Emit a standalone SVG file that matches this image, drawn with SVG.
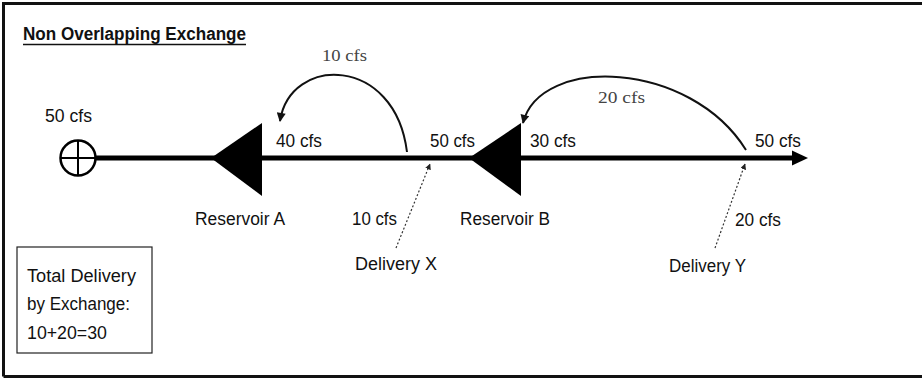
<svg xmlns="http://www.w3.org/2000/svg" width="922" height="379" viewBox="0 0 922 379">
  <style>
    .lbl { font-family: "Liberation Sans", Arial, sans-serif; font-size: 17.5px; fill: #111; }
    .title { font-family: "Liberation Sans", Arial, sans-serif; font-size: 17.5px; font-weight: bold; fill: #111; }
    .thin { font-family: "Liberation Serif", "DejaVu Serif", serif; font-size: 16px; fill: #444; }
    .arc { fill: none; stroke: #111; stroke-width: 2; }
    .dot { fill: none; stroke: #333; stroke-width: 1.2; stroke-dasharray: 2 2; }
    .main { stroke: #000; stroke-width: 5; fill: none; }
  </style>
  <defs>
    <marker id="ah" viewBox="0 0 10 10" refX="9" refY="5" markerWidth="10" markerHeight="9" markerUnits="userSpaceOnUse" orient="auto">
      <path d="M0,0 L10,5 L0,10 z" fill="#111"/>
    </marker>
    <marker id="ahs" viewBox="0 0 10 10" refX="9" refY="5" markerWidth="6" markerHeight="6" markerUnits="userSpaceOnUse" orient="auto">
      <path d="M0,0 L10,5 L0,10 z" fill="#222"/>
    </marker>
  </defs>
  <rect width="922" height="379" fill="#fff"/>
  <!-- frame -->
  <path d="M3.5,376.5 L3.5,3.5 L922,3.5 M3.5,376.5 L922,376.5" fill="none" stroke="#111" stroke-width="3"/>
  <text class="title" x="23" y="40" textLength="223" lengthAdjust="spacingAndGlyphs">Non Overlapping Exchange</text>
  <line x1="23" y1="44.5" x2="246" y2="44.5" stroke="#111" stroke-width="1.5"/>

  <g id="connectors">
    <line class="main" x1="96" y1="158" x2="796" y2="158"/>
    <polygon points="792,150.5 808,158 792,165.5" fill="#000"/>
    <path class="arc" d="M407,152 C395,55 290,55 280,121" marker-end="url(#ah)"/>
    <path class="arc" d="M746,150 C690,60 540,55 523,123" marker-end="url(#ah)"/>
    <path class="dot" d="M396,248 L430,164" marker-end="url(#ahs)"/>
    <path class="dot" d="M715,248 L745,164" marker-end="url(#ahs)"/>
  </g>

  <g id="source">
    <circle cx="78" cy="158" r="17.5" fill="#fff" stroke="#000" stroke-width="2.5"/>
    <line x1="60.5" y1="158" x2="95.5" y2="158" stroke="#000" stroke-width="2"/>
    <line x1="78" y1="140.5" x2="78" y2="175.5" stroke="#000" stroke-width="2"/>
    <text class="lbl" x="45" y="122" textLength="47" lengthAdjust="spacingAndGlyphs">50 cfs</text>
  </g>

  <g id="reservoir-a">
    <polygon points="211,158 262,123 262,196" fill="#000"/>
    <text class="lbl" x="195" y="225" textLength="90" lengthAdjust="spacingAndGlyphs">Reservoir A</text>
  </g>

  <g id="reservoir-b">
    <polygon points="469,158 521,123 521,196" fill="#000"/>
    <text class="lbl" x="460" y="225" textLength="90" lengthAdjust="spacingAndGlyphs">Reservoir B</text>
  </g>

  <g id="delivery-x">
    <text class="lbl" x="352" y="225" textLength="45" lengthAdjust="spacingAndGlyphs">10 cfs</text>
    <text class="lbl" x="355" y="270" textLength="82" lengthAdjust="spacingAndGlyphs">Delivery X</text>
  </g>

  <g id="delivery-y">
    <text class="lbl" x="735" y="226" textLength="46" lengthAdjust="spacingAndGlyphs">20 cfs</text>
    <text class="lbl" x="669" y="272" textLength="77" lengthAdjust="spacingAndGlyphs">Delivery Y</text>
  </g>

  <g id="flow-labels">
    <text class="lbl" x="276" y="147" textLength="46" lengthAdjust="spacingAndGlyphs">40 cfs</text>
    <text class="lbl" x="430" y="147" textLength="45" lengthAdjust="spacingAndGlyphs">50 cfs</text>
    <text class="lbl" x="530" y="147" textLength="46" lengthAdjust="spacingAndGlyphs">30 cfs</text>
    <text class="lbl" x="755" y="147" textLength="46" lengthAdjust="spacingAndGlyphs">50 cfs</text>
    <text class="thin" x="322" y="61" textLength="45" lengthAdjust="spacingAndGlyphs">10 cfs</text>
    <text class="thin" x="598" y="103" textLength="47" lengthAdjust="spacingAndGlyphs">20 cfs</text>
  </g>

  <g id="total-box">
    <rect x="17" y="247" width="135" height="106" fill="#fff" stroke="#222" stroke-width="1.2"/>
    <text class="lbl" x="27" y="282" textLength="109" lengthAdjust="spacingAndGlyphs">Total Delivery</text>
    <text class="lbl" x="27" y="310" textLength="103" lengthAdjust="spacingAndGlyphs">by Exchange:</text>
    <text class="lbl" x="27" y="339" textLength="80" lengthAdjust="spacingAndGlyphs">10+20=30</text>
  </g>
</svg>
